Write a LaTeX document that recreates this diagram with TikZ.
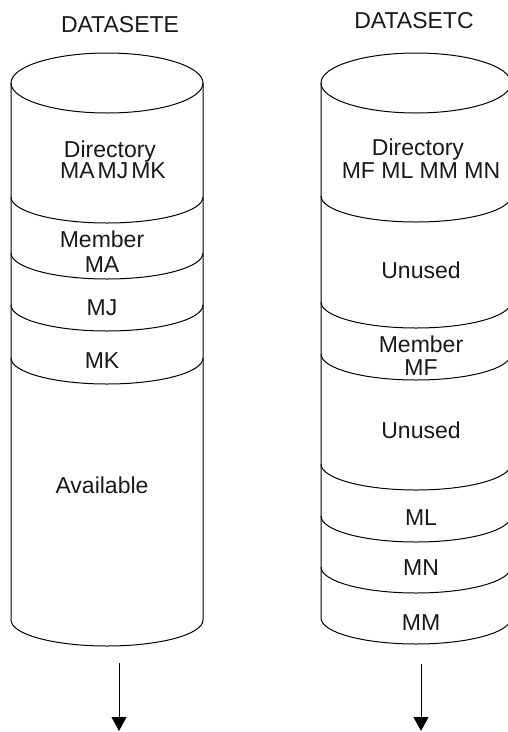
\documentclass[tikz,border=0pt]{standalone}
\usepackage{fontspec}
\setmainfont{Liberation Sans}
\usetikzlibrary{arrows.meta}
\begin{document}
\begin{tikzpicture}[x=1pt,y=1pt,
  lbl/.style={font=\fontsize{23}{23}\selectfont, inner sep=0pt, anchor=base, text=black!90},
  edge/.style={line width=1pt, black},
  arr/.style={line width=1pt, -{Triangle[width=15pt,length=14pt]}}]
\useasboundingbox (0,0) rectangle (508,-732);
\clip (0,0) rectangle (508,-732);
\fill[white] (0,0) rectangle (508,-732);

% ---------- left cylinder (DATASETE) ----------
\draw[edge] (107,-83) ellipse[x radius=96, y radius=30];
\draw[edge] (11,-83) -- (11,-620) arc[start angle=180, end angle=360, x radius=96, y radius=26] -- (203,-83);
\foreach \yy in {197,253,305,358}
  \draw[edge] (11,-\yy) arc[start angle=180, end angle=360, x radius=96, y radius=26];

\node[lbl] (tE) at (120,-32) {DATASETE};
\node[lbl] (lDir) at (110,-157) {Directory};
\node[lbl] (lDirM) at (113,-178) {MA\hspace{3pt}MJ\hspace{3pt}MK};
\node[lbl] (lMem) at (102,-247) {Member};
\node[lbl] (lMA) at (102,-272) {MA};
\node[lbl] (lMJ) at (102,-315) {MJ};
\node[lbl] (lMK) at (102,-368) {MK};
\node[lbl] (lAv) at (102,-493) {Available};

% ---------- right cylinder (DATASETC) ----------
\draw[edge] (416,-83) ellipse[x radius=95, y radius=30];
\draw[edge] (321,-83) -- (321,-618) arc[start angle=180, end angle=360, x radius=95, y radius=26] -- (511,-83);
\foreach \yy in {196,302,354,464,516,567}
  \draw[edge] (321,-\yy) arc[start angle=180, end angle=360, x radius=95, y radius=26];

\node[lbl] (tC) at (414,-28) {DATASETC};
\node[lbl] (rDir) at (418,-155) {Directory};
\node[lbl] (rDirM) at (421,-178) {MF ML MM MN};
\node[lbl] (rUn1) at (421,-278) {Unused};
\node[lbl] (rMem) at (421,-352) {Member};
\node[lbl] (rMF) at (421,-375) {MF};
\node[lbl] (rUn2) at (421,-438) {Unused};
\node[lbl] (rML) at (421,-525) {ML};
\node[lbl] (rMN) at (421,-575) {MN};
\node[lbl] (rMM) at (421,-630) {MM};

% ---------- arrows ----------
\coordinate (la1) at (119,-663);
\coordinate (la2) at (119,-731);
\coordinate (ra1) at (421,-664);
\coordinate (ra2) at (421,-731);
\draw[arr] (la1) -- (la2);
\draw[arr] (ra1) -- (ra2);
\end{tikzpicture}
\end{document}
